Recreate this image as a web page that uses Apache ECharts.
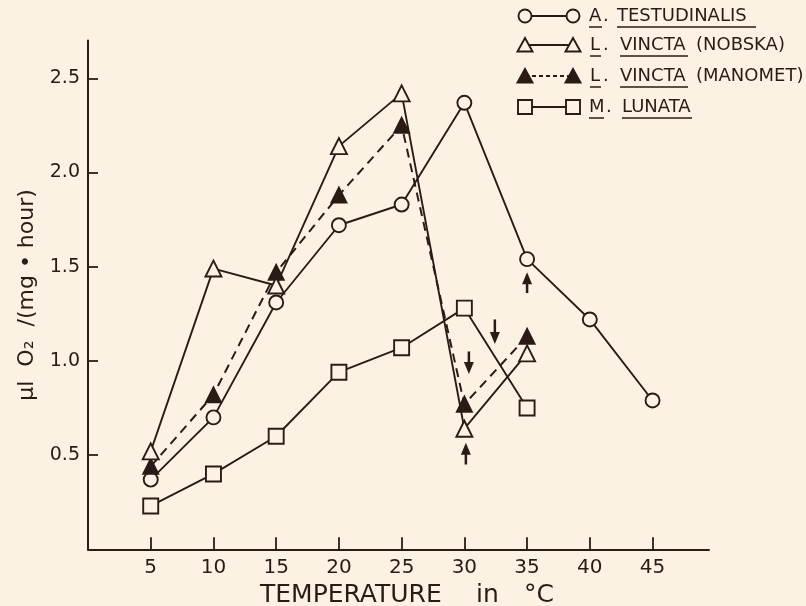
<!DOCTYPE html>
<html>
<head>
<meta charset="utf-8">
<script src="https://cdn.jsdelivr.net/npm/echarts@6/dist/echarts.min.js"></script>
<style>
html,body{margin:0;padding:0;background:#fcf2e4;}
#chart{width:806px;height:606px;}
</style>
</head>
<body>
<div id="chart"></div>
<script>
// ---- data ----
var tempsA = [5, 10, 15, 20, 25, 30, 35, 40, 45];
var testudinalis = [0.37, 0.70, 1.31, 1.72, 1.83, 2.37, 1.54, 1.22, 0.79];
var tempsL = [5, 10, 15, 20, 25, 30, 35];
var vinctaNobska = [0.52, 1.49, 1.40, 2.14, 2.42, 0.64, 1.04];
var vinctaManomet = [0.44, 0.82, 1.47, 1.88, 2.25, 0.77, 1.13];
var lunata = [0.23, 0.40, 0.60, 0.94, 1.07, 1.28, 0.75];
// arrows: [temperature, tail value, head value]
var arrows = [[35, 1.36, 1.47], [32.43, 1.22, 1.09], [30.36, 1.05, 0.93], [30.12, 0.45, 0.565]];
var xTicks = [5, 10, 15, 20, 25, 30, 35, 40, 45];
var yTicks = [0.5, 1.0, 1.5, 2.0, 2.5];

var INK = '#2b1b17';
var BG = '#fcf2e4';
var FONT = 'DejaVu Sans';

function pairs(xs, ys) { return xs.map(function (x, i) { return [x, ys[i]]; }); }

var chart = echarts.init(document.getElementById('chart'));

function legendRow(y, sym, dashed, filled, parts) {
  var els = [];
  els.push({ type: 'line', shape: { x1: 525, y1: y, x2: 573, y2: y },
    style: { stroke: INK, lineWidth: 1.9, lineDash: dashed ? [4, 3] : null }, z: 10 });
  [525, 573].forEach(function (cx) {
    var s;
    if (sym === 'circle') s = { type: 'circle', shape: { cx: cx, cy: y, r: 6.5 } };
    else if (sym === 'rect') s = { type: 'rect', shape: { x: cx - 7, y: y - 7, width: 14, height: 14 } };
    else s = { type: 'polygon', shape: { points: [[cx, y - 7], [cx - 7.5, y + 6.5], [cx + 7.5, y + 6.5]] } };
    s.style = { fill: filled ? INK : BG, stroke: INK, lineWidth: 1.9 };
    s.z = 11;
    els.push(s);
  });
  parts.forEach(function (p) {
    els.push({ type: 'text', x: p.x, y: y, z: 11,
      style: { text: p.t, fill: INK, font: '18px "' + FONT + '"', verticalAlign: 'middle', align: 'left' } });
    if (p.u) {
      els.push({ type: 'line', z: 11, shape: { x1: p.x, y1: y + 11, x2: p.x + p.u, y2: y + 11 },
        style: { stroke: INK, lineWidth: 1.5 } });
    }
  });
  return els;
}

var graphics = [].concat(
  legendRow(16, 'circle', false, false, [
    { t: 'A', x: 589, u: 13 }, { t: '.', x: 603 }, { t: 'TESTUDINALIS', x: 617, u: 139 }]),
  legendRow(45, 'triangle', false, false, [
    { t: 'L', x: 590, u: 11 }, { t: '.', x: 603 }, { t: 'VINCTA', x: 620, u: 68 }, { t: '(NOBSKA)', x: 696 }]),
  legendRow(76, 'triangle', true, true, [
    { t: 'L', x: 590, u: 11 }, { t: '.', x: 603 }, { t: 'VINCTA', x: 620, u: 68 }, { t: '(MANOMET)', x: 696 }]),
  legendRow(107, 'rect', false, false, [
    { t: 'M', x: 589, u: 15 }, { t: '.', x: 606 }, { t: 'LUNATA', x: 622, u: 70 }]),
  [
    { type: 'text', x: 260, y: 595, style: { text: 'TEMPERATURE', fill: INK, font: '25px "' + FONT + '"', verticalAlign: 'middle' } },
    { type: 'text', x: 476, y: 595, style: { text: 'in', fill: INK, font: '25px "' + FONT + '"', verticalAlign: 'middle' } },
    { type: 'text', x: 524, y: 595, style: { text: '°C', fill: INK, font: '25px "' + FONT + '"', verticalAlign: 'middle' } }
  ]
);

function lineSeries(name, xs, ys, symbol, size, filled, dashed) {
  return {
    name: name, type: 'line', data: pairs(xs, ys),
    symbol: symbol, symbolSize: size, showAllSymbol: true,
    lineStyle: { color: INK, width: dashed ? 2 : 1.9, type: dashed ? [9, 6] : 'solid' },
    itemStyle: { color: filled ? INK : BG, borderColor: INK, borderWidth: 1.9 },
    emphasis: { disabled: true }, animation: false, z: 3
  };
}

var option = {
  backgroundColor: BG,
  animation: false,
  grid: { left: 88, top: 40.6, width: 621, height: 508.7, containLabel: false },
  xAxis: {
    type: 'value', min: 0, max: 49.5, interval: 5,
    axisLine: { lineStyle: { color: INK, width: 2 } },
    axisTick: { inside: true, length: 12, lineStyle: { color: INK, width: 1.8 } },
    axisLabel: { color: INK, fontFamily: FONT, fontSize: 20, margin: 8, showMinLabel: false, showMaxLabel: false,
      formatter: function (v) { return xTicks.indexOf(v) >= 0 ? String(v) : ''; } },
    splitLine: { show: false }
  },
  yAxis: {
    type: 'value', min: 0, max: 2.7, interval: 0.5,
    name: 'µl  O\u2082  /(mg • hour)', nameLocation: 'middle', nameGap: 50, nameRotate: 90,
    nameTextStyle: { color: INK, fontFamily: FONT, fontSize: 22 },
    axisLine: { lineStyle: { color: INK, width: 2 } },
    axisTick: { inside: true, length: 10, lineStyle: { color: INK, width: 1.8 } },
    axisLabel: { color: INK, fontFamily: FONT, fontSize: 19, margin: 8, showMinLabel: false, showMaxLabel: false,
      formatter: function (v) { for (var i = 0; i < yTicks.length; i++) { if (Math.abs(yTicks[i] - v) < 1e-6) return yTicks[i].toFixed(1); } return ''; } },
    splitLine: { show: false }
  },
  graphic: graphics,
  series: [
    lineSeries('M. LUNATA', tempsL, lunata, 'rect', 15, false, false),
    lineSeries('A. TESTUDINALIS', tempsA, testudinalis, 'circle', 14, false, false),
    lineSeries('L. VINCTA (MANOMET)', tempsL, vinctaManomet, 'triangle', 15, true, true),
    lineSeries('L. VINCTA (NOBSKA)', tempsL, vinctaNobska, 'triangle', 16, false, false),
    {
      type: 'custom', data: arrows, encode: { x: 0, y: [1, 2] }, clip: false, z: 5,
      renderItem: function (params, api) {
        var p1 = api.coord([api.value(0), api.value(1)]);
        var p2 = api.coord([api.value(0), api.value(2)]);
        var dir = p2[1] > p1[1] ? 1 : -1;
        var hl = 12, hw = 5;
        return {
          type: 'group', children: [
            { type: 'line', shape: { x1: p1[0], y1: p1[1], x2: p2[0], y2: p2[1] - dir * hl * 0.6 },
              style: { stroke: INK, lineWidth: 2.5 } },
            { type: 'polygon', shape: { points: [[p2[0], p2[1]], [p2[0] - hw, p2[1] - dir * hl], [p2[0] + hw, p2[1] - dir * hl]] },
              style: { fill: INK } }
          ]
        };
      }
    }
  ]
};
chart.setOption(option);
</script>
</body>
</html>
